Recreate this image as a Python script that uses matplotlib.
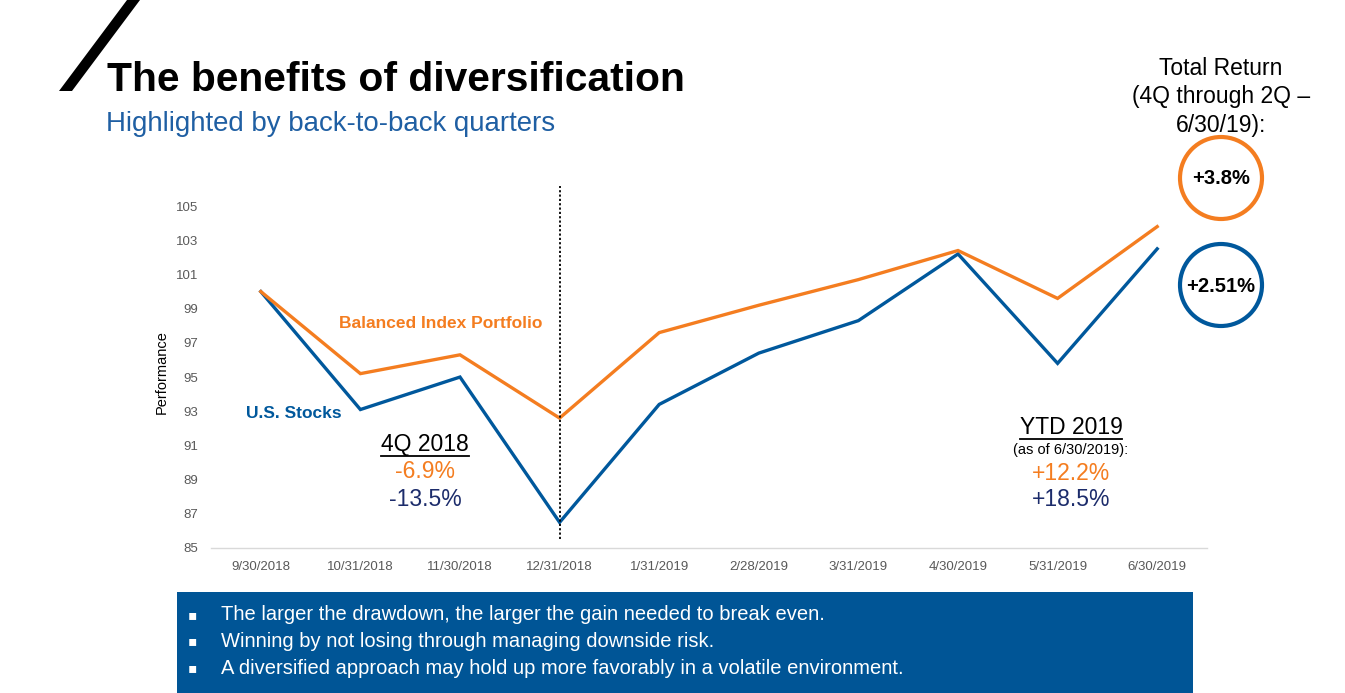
import matplotlib
matplotlib.use("Agg")
import matplotlib.pyplot as plt
from matplotlib.patches import Circle, Rectangle, Polygon
from matplotlib.lines import Line2D

# ---------------- data ----------------
dates = ["9/30/2018", "10/31/2018", "11/30/2018", "12/31/2018", "1/31/2019",
         "2/28/2019", "3/31/2019", "4/30/2019", "5/31/2019", "6/30/2019"]
balanced = [100.0, 95.2, 96.3, 92.6, 97.6, 99.2, 100.7, 102.4, 99.6, 103.8]
stocks = [100.0, 93.1, 95.0, 86.5, 93.4, 96.4, 98.3, 102.2, 95.8, 102.5]
yticks = [85, 87, 89, 91, 93, 95, 97, 99, 101, 103, 105]
divider_index = 3

title = "The benefits of diversification"
subtitle = "Highlighted by back-to-back quarters"
total_return_lines = ["Total Return", "(4Q through 2Q \u2013", "6/30/19):"]
total_balanced = "+3.8%"
total_stocks = "+2.51%"
q4_lines = ["4Q 2018", "-6.9%", "-13.5%"]
ytd_lines = ["YTD 2019", "(as of 6/30/2019):", "+12.2%", "+18.5%"]
bullets = ["The larger the drawdown, the larger the gain needed to break even.",
           "Winning by not losing through managing downside risk.",
           "A diversified approach may hold up more favorably in a volatile environment."]

# ---------------- style ----------------
ORANGE = "#F47D20"
BLUE = "#00589C"
NAVY = "#1C2C6B"
BOX = "#005596"
SUB = "#1F5FA3"
GRAY = "#595959"
FONT = ["Liberation Sans", "DejaVu Sans"]
plt.rcParams["font.family"] = FONT

W, H = 1345, 693
fig = plt.figure(figsize=(W / 100, H / 100), dpi=100)

# main chart axes (pixel box: x 211-1207, y 189-548)
ax = fig.add_axes([211 / W, 1 - 548 / H, (1207 - 211) / W, (548 - 189) / H])
x = list(range(len(dates)))
ax.plot(x, stocks, color=BLUE, lw=2.4, solid_joinstyle="miter", zorder=3)
ax.plot(x, balanced, color=ORANGE, lw=2.4, solid_joinstyle="miter", zorder=3)
ax.set_xlim(-0.5, len(dates) - 0.5)
ax.set_ylim(85, 106)
ax.set_yticks(yticks)
ax.set_xticks(x)
ax.set_xticklabels(dates)
ax.tick_params(axis="both", length=0, labelsize=9.5, labelcolor=GRAY)
ax.tick_params(axis="y", pad=9)
ax.tick_params(axis="x", pad=9)
for s in ["top", "right", "left"]:
    ax.spines[s].set_visible(False)
ax.spines["bottom"].set_color("#D9D9D9")
ax.spines["bottom"].set_linewidth(1.0)
ax.patch.set_alpha(0)
ax.vlines(divider_index, 85.5, 106.2, colors="black", linestyles=(0, (1.2, 1.2)),
          lw=1.3, clip_on=False, zorder=4)

# overlay axes in pixel coordinates
ov = fig.add_axes([0, 0, 1, 1], zorder=5)
ov.set_xlim(0, W)
ov.set_ylim(H, 0)
ov.axis("off")
ov.patch.set_alpha(0)

# slash
ov.add_patch(Polygon([(59, 91), (72, 91), (140, 0), (127, 0)], closed=True,
                     color="black", lw=0))

ov.text(107, 91, title, fontsize=29.3, fontweight="bold", color="black",
        ha="left", va="baseline")
ov.text(106, 131, subtitle, fontsize=19.9, color=SUB, ha="left", va="baseline")

for i, t in enumerate(total_return_lines):
    ov.text(1221, 75 + i * 28.3, t, fontsize=16.5, color="black",
            ha="center", va="baseline")

ov.add_patch(Circle((1221, 178), 41, fill=False, ec=ORANGE, lw=3))
ov.add_patch(Circle((1221, 285), 41, fill=False, ec=BLUE, lw=3))
ov.text(1221, 179, total_balanced, fontsize=14.5, fontweight="bold",
        ha="center", va="center")
ov.text(1221, 286, total_stocks, fontsize=14.5, fontweight="bold",
        ha="center", va="center")

ov.text(441, 323, "Balanced Index Portfolio", fontsize=12.5, fontweight="bold",
        color=ORANGE, ha="center", va="center")
ov.text(294, 413, "U.S. Stocks", fontsize=12.5, fontweight="bold",
        color=BLUE, ha="center", va="center")

# 4Q 2018 block
t_q4 = ov.text(425, 444, q4_lines[0], fontsize=16.5, color="black",
               ha="center", va="center")
ov.text(425, 472, q4_lines[1], fontsize=16.5, color=ORANGE, ha="center", va="center")
ov.text(425, 500, q4_lines[2], fontsize=16.5, color=NAVY, ha="center", va="center")

# YTD block
t_ytd = ov.text(1071, 427, ytd_lines[0], fontsize=16.5, color="black",
                ha="center", va="center")
ov.text(1071, 450, ytd_lines[1], fontsize=10.5, color="black", ha="center", va="center")
ov.text(1071, 473, ytd_lines[2], fontsize=16.5, color=ORANGE, ha="center", va="center")
ov.text(1071, 499, ytd_lines[3], fontsize=16.5, color=NAVY, ha="center", va="center")

ov.text(162, 372, "Performance", fontsize=10.5, color="black", rotation=90,
        ha="center", va="center")

# underline
fig.canvas.draw()
r = fig.canvas.get_renderer()
for t, yline in [(t_q4, 455.5), (t_ytd, 438.5)]:
    bb = t.get_window_extent(r)
    ov.add_line(Line2D([bb.x0, bb.x1], [yline, yline], color="black", lw=1.3))

# bottom box
ov.add_patch(Rectangle((177, 592), 1193 - 177, H - 592 + 2, color=BOX, lw=0))
for i, b in enumerate(bullets):
    yy = 615 + i * 26.5
    ov.text(192, yy, "\u25aa", fontsize=10, color="white", ha="center", va="center",
            family=["DejaVu Sans"])
    ov.text(221, yy, b, fontsize=14.5, color="white", ha="left", va="center")

fig.savefig("out.png", dpi=100)
